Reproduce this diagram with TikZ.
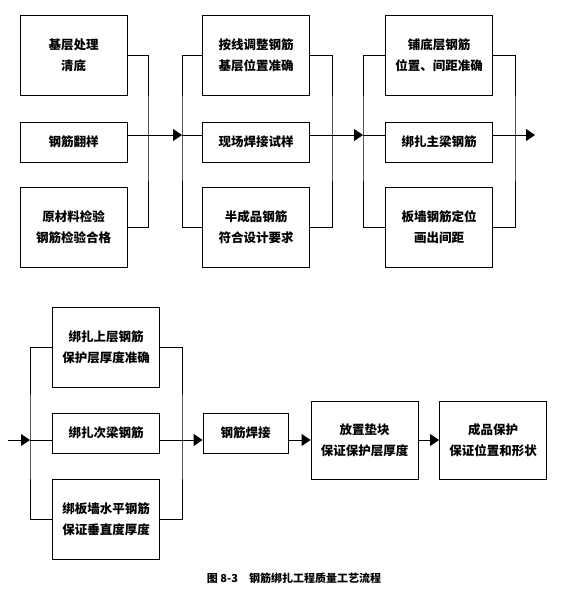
\documentclass[tikz,border=0pt]{standalone}
\usepackage{fontspec}
\setmainfont{Noto Sans CJK SC}
\usetikzlibrary{arrows.meta, positioning}

\begin{document}
\begin{tikzpicture}[x=1pt, y=-1pt, line width=0.9pt,
	tall/.style={draw=black, rectangle, minimum width=107pt, minimum height=80pt,
		align=center, inner sep=0pt, font=\bfseries\fontsize{12.5}{21}\selectfont},
	short/.style={tall, minimum height=40pt},
	arr/.style={-{Triangle[length=9pt, width=12pt]}}]
	\useasboundingbox (0,0) rectangle (564,596);
	% top row
	\node[tall] (A1) at (73.5,55) {基层处理\\清底};
	\node[short] (A2) at (73.5,142) {钢筋翻样};
	\node[tall] (A3) at (73.5,227) {原材料检验\\钢筋检验合格};
	\node[tall] (B1) at (256,55) {按线调整钢筋\\基层位置准确};
	\node[short] (B2) at (256,142) {现场焊接试样};
	\node[tall] (B3) at (256,227) {半成品钢筋\\符合设计要求};
	\node[tall] (C1) at (439,55) {铺底层钢筋\\位置、间距准确};
	\node[short] (C2) at (439,142) {绑扎主梁钢筋};
	\node[tall] (C3) at (439,227) {板墙钢筋定位\\画出间距};
	% bottom row
	\node[tall] (D1) at (106,347) {绑扎上层钢筋\\保护层厚度准确};
	\node[short] (D2) at (106,433) {绑扎次梁钢筋};
	\node[tall] (D3) at (106,519) {绑板墙水平钢筋\\保证垂直度厚度};
	\node[short, minimum width=85pt] (E) at (245.5,433) {钢筋焊接};
	\node[tall, minimum height=78pt] (F) at (364.5,440) {放置垫块\\保证保护层厚度};
	\node[tall, minimum height=78pt] (G) at (493,440) {成品保护\\保证位置和形状};
	\node (cap) at (294,578) {\bfseries\fontsize{11}{13}\selectfont 图 8-3\quad 钢筋绑扎工程质量工艺流程};
	% junctions
	\coordinate (a) at (148,135);
	\coordinate (b) at (182,135);
	\coordinate (c) at (332,135);
	\coordinate (d) at (363,135);
	\coordinate (e) at (515,135);
	\coordinate (out) at (535,135);
	\coordinate (in) at (8,440);
	\coordinate (f) at (30,440);
	\coordinate (g) at (182,440);
	\draw
	(A1.east) -| (a) |- (A3.east)
	(A2.east |- a) -- (a)
	(B1.west) -| (b) |- (B3.west)
	(b) -- (B2.west |- b)
	(B1.east) -| (c) |- (B3.east)
	(B2.east |- c) -- (c)
	(C1.west) -| (d) |- (C3.west)
	(d) -- (C2.west |- d)
	(C1.east) -| (e) |- (C3.east)
	(C2.east |- e) -- (e)
	(D1.west) -| (f) |- (D3.west)
	(f) -- (D2.west |- f)
	(D1.east) -| (g) |- (D3.east)
	(D2.east |- g) -- (g)
	;
	\draw[arr] (a) -- (b);
	\draw[arr] (c) -- (d);
	\draw[arr] (e) -- (out);
	\draw[arr] (in) -- (f);
	\draw[arr] (g) -- (E.west |- g);
	\draw[arr] (E.east |- g) -- (F.west);
	\draw[arr] (F.east) -- (G.west);
\end{tikzpicture}
\end{document}
